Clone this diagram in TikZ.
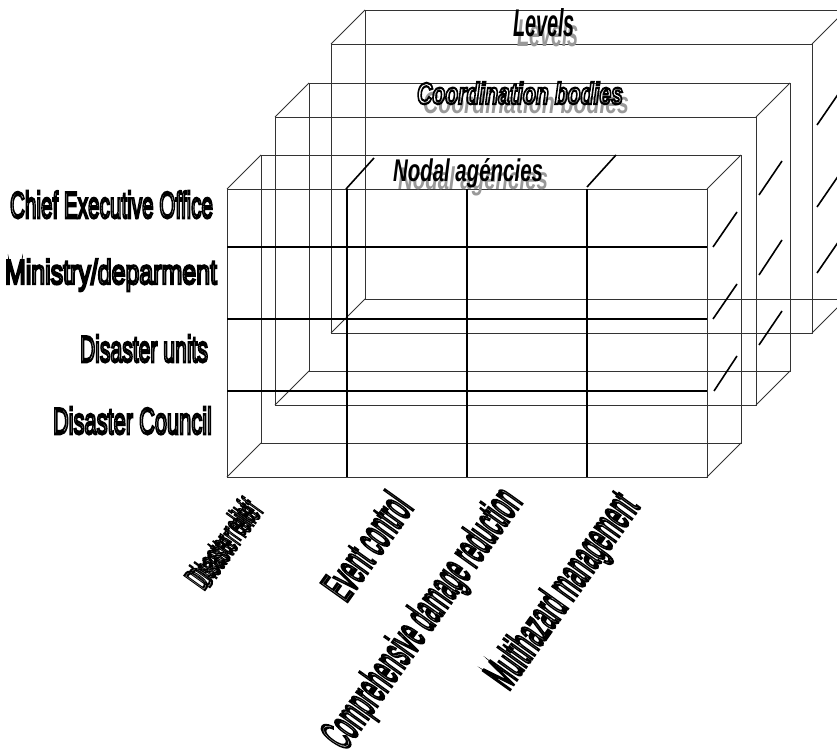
\documentclass[tikz,border=0pt]{standalone}
\usepackage{fontspec}
\usepackage{graphicx}
\newfontfamily\labfont{Liberation Sans}
\newcommand\cuboid[4]{%
  \draw[edge] (#1,#2) rectangle ++(#3,#4);
  \draw[edge] (#1+34,#2-34) rectangle ++(#3,#4);
  \draw[edge] (#1,#2) -- ++(34,-34) (#1+#3,#2) -- ++(34,-34)
              (#1,#2+#4) -- ++(34,-34) (#1+#3,#2+#4) -- ++(34,-34);}
\newcommand\olon[1]{\special{pdf:literal direct 1 Tr #1 w 0 G}}
\newcommand\oloff{\special{pdf:literal direct 0 Tr}}
\newcommand\fs[1]{\fontsize{#1bp}{#1bp}\selectfont}
\begin{document}
\begin{tikzpicture}[x=1bp,y=-1bp,
  edge/.style={line width=0.9bp,draw=black!80},
  gridline/.style={line width=1.6bp,draw=black},
  slash/.style={line width=1.6bp,draw=black},
  txt/.style={inner sep=0pt,outer sep=0pt,font=\labfont},
  rowtxt/.style={txt,anchor=base east},
  shadow/.style={txt,anchor=base west,text=black!40},
  coltxt/.style={txt,anchor=base east,cm={0.2915,0.4087,-0.9525,0.6794,(0,0)},font={\labfont\fs{40}}}]
\useasboundingbox (0,0) rectangle (837,751);
\clip (0,0) rectangle (837,751);
% boxes
\cuboid{331}{44}{481}{289}
\cuboid{275}{117}{481}{288}
\cuboid{227}{189}{480}{288}
% grid of the front box
\foreach \gx in {347,467,587} \draw[gridline] (\gx,189) -- (\gx,477);
\foreach \gy in {247,319,391} \draw[gridline] (227,\gy) -- (707,\gy);
% slashes
\draw[slash] (346,189) -- (374,158);
\draw[slash] (587,187) -- (616,155);
\draw[slash] (713,247) -- (737,212) (713,319) -- (737,284) (714,391) -- (737,356);
\draw[slash] (759,195) -- (782,161) (759,275) -- (782,240) (759,345) -- (782,311);
\draw[slash] (817,125) -- (841,90) (817,207) -- (841,172) (817,273) -- (841,238);
% titles
\node[shadow] (t1s) at (517,47) {\resizebox{62bp}{28bp}{\fs{38}\bfseries\itshape Levels}};
\node[txt,anchor=base west] (t1) at (513,37) {\resizebox{62bp}{28bp}{\fs{38}\bfseries\itshape Levels}};
\node[shadow] (t2s) at (423,113) {\resizebox{206bp}{22bp}{\fs{30}\bfseries\itshape Coordination bodies}};
\node[txt,anchor=base west] (t2) at (417,104) {\olon{2.2}\resizebox{206bp}{22bp}{\fs{30}\bfseries\itshape Coordination bodies}\oloff};
\node[shadow] (t3s) at (398,189) {\resizebox{150bp}{23bp}{\fs{31}\bfseries\itshape Nodal agéncies}};
\node[txt,anchor=base west] (t3) at (393,181) {\resizebox{150bp}{23bp}{\fs{31}\bfseries\itshape Nodal agéncies}};
% row labels
\node[rowtxt] (r1) at (213,218) {\olon{2.5}\resizebox{203bp}{27bp}{\fs{37}Chief Executive Office}\oloff};
\node[rowtxt] (r2) at (217,284) {\olon{2.5}\resizebox{212bp}{25bp}{\fs{35}Ministry/deparment}\oloff};
\node[rowtxt] (r3) at (208,362) {\olon{2.5}\resizebox{128bp}{27bp}{\fs{37}Disaster units}\oloff};
\node[rowtxt] (r4) at (212,434) {\olon{2.5}\resizebox{159bp}{27bp}{\fs{37}Disaster Council}\oloff};
% column labels
\node[coltxt,font={\labfont\fs{31}}] (c1b) at (259,514) {\olon{1.8}Disaster relief\oloff};
\node[coltxt,font={\labfont\fs{31}}] (c1) at (264,511) {\olon{1.8}Disaster relief\oloff};
\node[coltxt] (c2) at (414,508) {\olon{2.6}Event control\oloff};
\node[coltxt] (c3) at (523,502) {\olon{2.6}Comprehensive damage reduction\oloff};
\node[coltxt] (c4) at (640,507) {\olon{2.6}Multihazard management\oloff};
\end{tikzpicture}
\end{document}
